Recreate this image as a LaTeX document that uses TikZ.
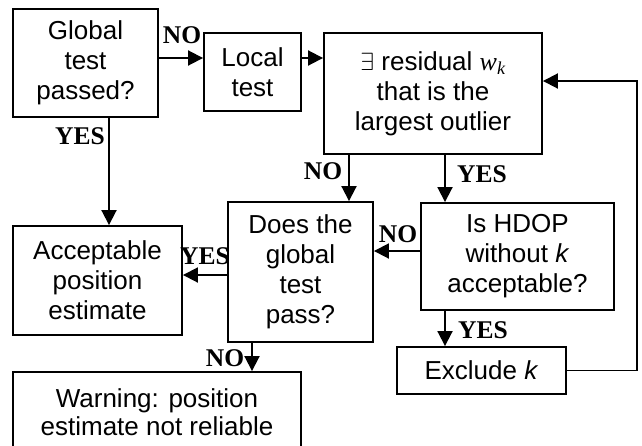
\documentclass[tikz,border=0pt]{standalone}
\usepackage{fontspec}
\setmainfont{Liberation Sans}
\newfontfamily\lblfont{Liberation Serif}
\usetikzlibrary{arrows.meta}
\begin{document}
\begin{tikzpicture}[x=1pt,y=-1pt,
  box/.style={draw, line width=1.9pt, align=center, inner sep=0pt,
    font=\fontsize{26}{30}\selectfont},
  lbl/.style={inner sep=0pt, font=\lblfont\bfseries\fontsize{25.5}{25.5}\selectfont},
  arr/.style={line width=1.9pt, -{Triangle[length=15pt,width=15pt]}}]
\clip (0,0) rectangle (642,445);
\node[box, minimum width=145pt, minimum height=108pt] (b1) at (85.5,63) {Global\\test\\passed?};
\node[box, minimum width=97pt, minimum height=78pt] (b2) at (252.5,72) {Local\\test};
\node[box, minimum width=218pt, minimum height=121pt] (b3) at (433,93.5) {$\exists$ residual {\lblfont\itshape w\textsubscript{k}}\\that is the\\largest outlier};
\node[box, minimum width=169pt, minimum height=109pt] (b4) at (97.5,280.5) {Acceptable\\position\\estimate};
\node[box, minimum width=145pt, minimum height=140pt] (b5) at (300.5,272) {Does the\\global\\test\\pass?};
\node[box, minimum width=193pt, minimum height=107pt] (b6) at (517.5,256.5) {Is HDOP\\without \textit{k}\\acceptable?};
\node[box, minimum width=169pt, minimum height=47pt] (b7) at (481.5,370.5) {Exclude \textit{k}};
\node[box, minimum width=288pt, minimum height=80pt, font=\fontsize{26}{28}\selectfont] (b8) at (157,412) {Warning: position\\estimate not reliable};
% connectors
\coordinate (a12) at ([yshift=5pt]b1.east);
\draw[arr] (a12) -- (a12 -| b2.west);
\draw[arr] (a12 -| b2.east) -- (a12 -| b3.west);
\coordinate (a14) at ([xshift=23.5pt]b1.south);
\draw[arr] (a14) -- (a14 |- b4.north);
\coordinate (a35) at ([xshift=-84pt]b3.south);
\draw[arr] (a35) -- (a35 |- b5.north);
\coordinate (a36) at ([xshift=12pt]b3.south);
\draw[arr] (a36) -- (a36 |- b6.north);
\coordinate (a65) at ([yshift=5.5pt]b6.west);
\draw[arr] (a65) -- (a65 -| b5.east);
\coordinate (a54) at ([yshift=-3pt]b5.west);
\draw[arr] (a54) -- (a54 -| b4.east);
\coordinate (a67) at ([xshift=-72.5pt]b6.south);
\draw[arr] (a67) -- (a67 |- b7.north);
\coordinate (a58) at ([xshift=-48.5pt]b5.south);
\draw[arr] (a58) -- (a58 |- b8.north);
\coordinate (a73) at ([yshift=12.5pt]b3.east);
\coordinate (rx) at (637,0);
\draw[arr] (b7.east) -| (rx |- a73) -- (a73);
% labels
\node[lbl] (l1) at (182,35) {NO};
\node[lbl] (l2) at (80,136) {YES};
\node[lbl] (l3) at (323,171) {NO};
\node[lbl] (l4) at (482,174) {YES};
\node[lbl] (l5) at (398,234) {NO};
\node[lbl] (l6) at (205,256) {YES};
\node[lbl] (l7) at (483,330) {YES};
\node[lbl] (l8) at (225,358) {NO};
\end{tikzpicture}
\end{document}
